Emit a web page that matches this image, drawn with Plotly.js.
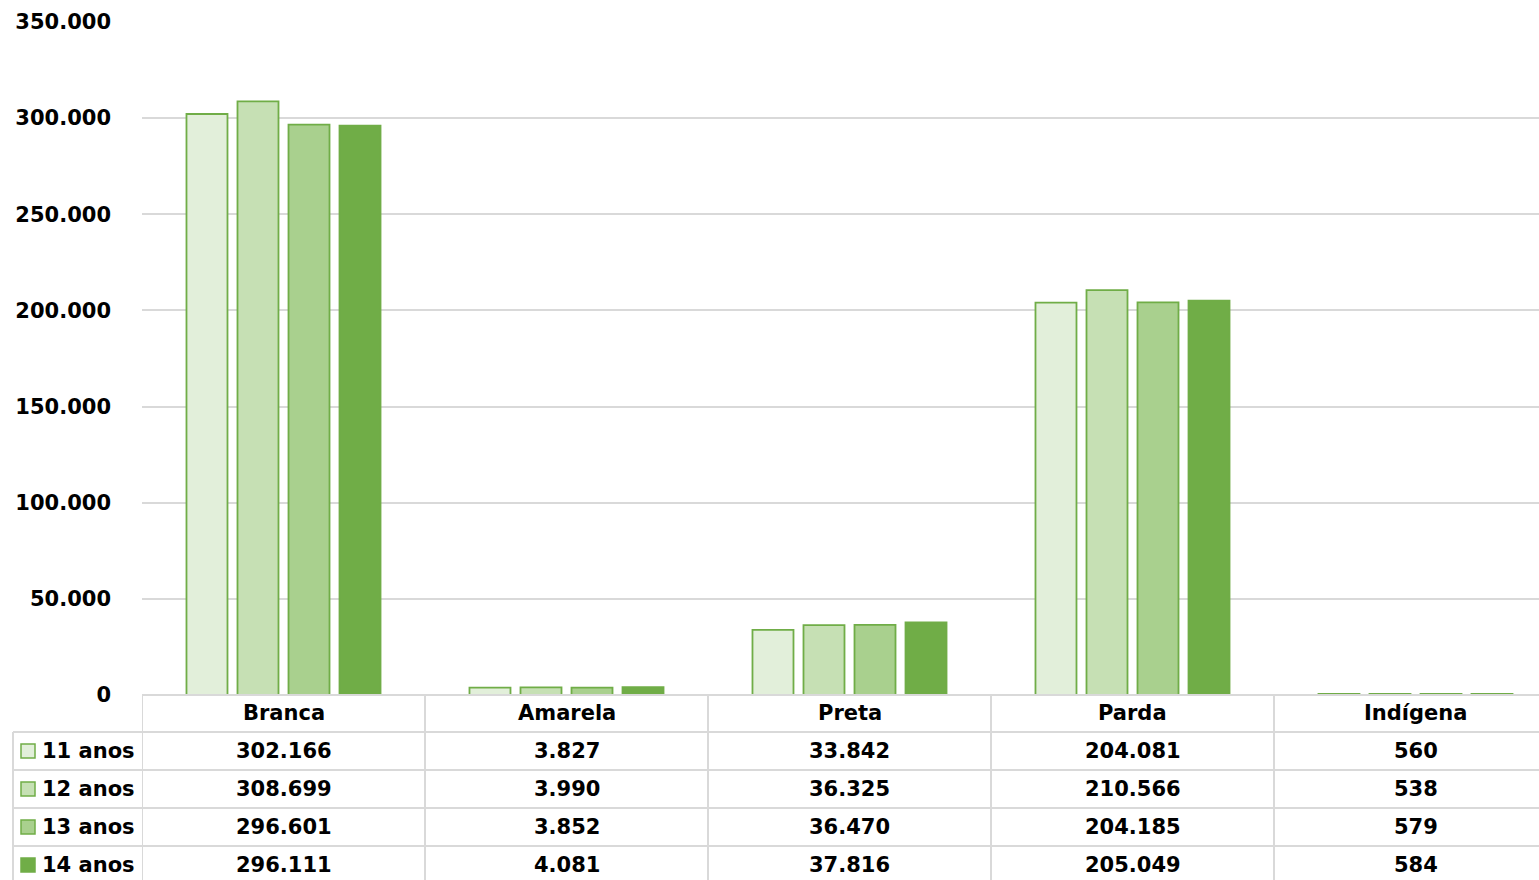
<!DOCTYPE html>
<html>
<head>
<meta charset="utf-8">
<script src="https://cdn.plot.ly/plotly-3.0.1.min.js"></script>
<style>
html,body{margin:0;padding:0;background:#fff;overflow:hidden;}
#chart{width:1539px;height:880px;}
</style>
</head>
<body>
<div id="chart"></div>
<script>
// ---- Data ----
const categories = ['Branca', 'Amarela', 'Preta', 'Parda', 'Indígena'];
const seriesNames = ['11 anos', '12 anos', '13 anos', '14 anos'];
const anos11 = [302166, 3827, 33842, 204081, 560];
const anos12 = [308699, 3990, 36325, 210566, 538];
const anos13 = [296601, 3852, 36470, 204185, 579];
const anos14 = [296111, 4081, 37816, 205049, 584];
const yTicks = [0, 50000, 100000, 150000, 200000, 250000, 300000, 350000];

// ---- Styling ----
const seriesValues = [anos11, anos12, anos13, anos14];
const fills = ['#E2EFDA', '#C6E0B4', '#A9D08E', '#70AD47'];
const edge = '#70AD47';
const gridCol = '#D9D9D9';
const FONT = {family: 'DejaVu Sans, Verdana, sans-serif', size: 21, color: '#000000', weight: 'bold'};

const W = 1539, H = 880, L = 142, T = 22, B = 695;
const PW = W - L, PH = B - T;
const py = p => (B - p) / PH;
const pxp = p => (p - L) / PW;

function fmt(n) {
  return String(n).replace(/\B(?=(\d{3})+(?!\d))/g, '.');
}

const traces = seriesValues.map((vals, i) => ({
  type: 'bar',
  name: seriesNames[i],
  x: categories,
  y: vals,
  marker: {color: fills[i], line: {color: edge, width: 1.8}},
  hoverinfo: 'x+y+name'
}));

const shapes = [];
const annotations = [];

const rowLines = [732, 770, 808, 846];
const rowCenters = [751, 789, 827, 865];
const headerCenter = 713.5;

rowLines.forEach(yp => {
  shapes.push({type: 'line', xref: 'paper', yref: 'paper', x0: pxp(13), x1: 1.05, y0: py(yp), y1: py(yp),
    line: {color: gridCol, width: 2}});
});
shapes.push({type: 'line', xref: 'paper', yref: 'paper', x0: 0, x1: 1.05, y0: 0, y1: 0,
  line: {color: gridCol, width: 2}});
for (let i = 0; i <= categories.length; i++) {
  shapes.push({type: 'line', xref: 'x', yref: 'paper', x0: i - 0.5, x1: i - 0.5, y0: 0, y1: py(H + 5),
    line: {color: gridCol, width: 2}});
}
shapes.push({type: 'line', xref: 'paper', yref: 'paper', x0: pxp(13), x1: pxp(13), y0: py(732), y1: py(H + 5),
  line: {color: gridCol, width: 2}});

categories.forEach((c, j) => {
  annotations.push({text: c, x: j, xref: 'x', y: py(headerCenter), yref: 'paper',
    showarrow: false, xanchor: 'center', yanchor: 'middle', font: FONT});
});
seriesNames.forEach((s, i) => {
  const yc = rowCenters[i];
  shapes.push({type: 'rect', xref: 'paper', yref: 'paper',
    x0: pxp(21), x1: pxp(35), y0: py(yc + 7), y1: py(yc - 7),
    fillcolor: fills[i], line: {color: edge, width: 1.5}});
  annotations.push({text: s, x: pxp(40), xref: 'paper', y: py(yc), yref: 'paper',
    showarrow: false, xanchor: 'left', yanchor: 'middle', font: FONT});
  seriesValues[i].forEach((v, j) => {
    annotations.push({text: fmt(v), x: j, xref: 'x', y: py(yc), yref: 'paper',
      showarrow: false, xanchor: 'center', yanchor: 'middle', font: FONT});
  });
});

const layout = {
  width: W, height: H,
  margin: {l: L, r: 0, t: T, b: H - B, pad: 0},
  paper_bgcolor: '#ffffff',
  plot_bgcolor: '#ffffff',
  showlegend: false,
  barmode: 'group',
  bargap: 0.279,
  bargroupgap: 0.196,
  separators: ',.',
  font: FONT,
  xaxis: {
    type: 'category',
    range: [-0.5, 4.5 - 18 / 283],
    showticklabels: false,
    showgrid: false,
    zeroline: false,
    showline: false,
    ticks: '',
    fixedrange: true
  },
  yaxis: {
    range: [0, 350000],
    tickvals: yTicks,
    ticktext: yTicks.map(fmt),
    showgrid: true,
    gridcolor: gridCol,
    gridwidth: 2,
    zeroline: false,
    showline: false,
    ticks: '',
    ticklabelstandoff: 30,
    tickfont: FONT,
    fixedrange: true
  },
  shapes: shapes,
  annotations: annotations
};

Plotly.newPlot('chart', traces, layout, {displayModeBar: false, staticPlot: true});
</script>
</body>
</html>
